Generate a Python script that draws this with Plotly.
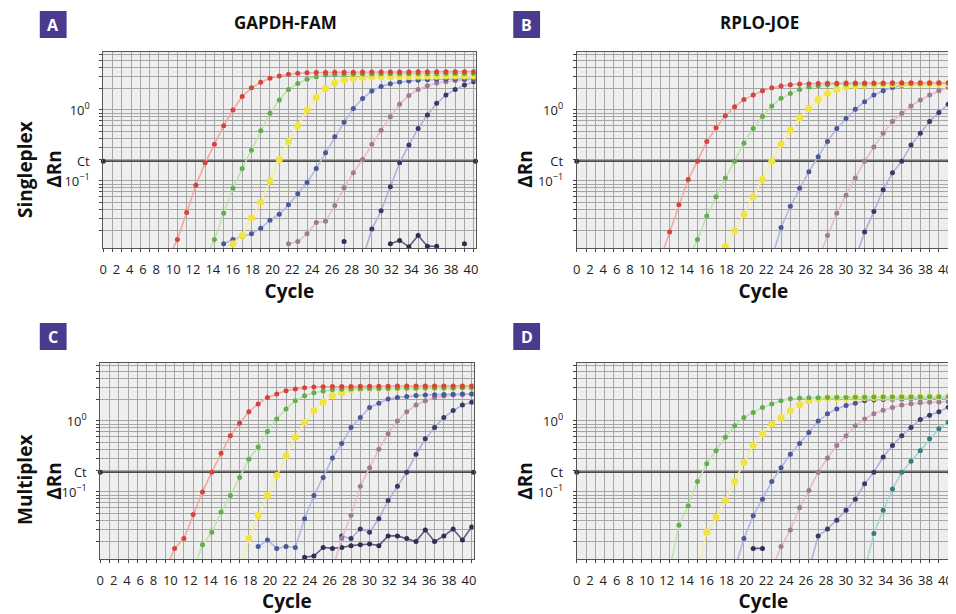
import plotly.graph_objects as go

FONT = "Open Sans, Noto Sans, DejaVu Sans, sans-serif"
CT = 0.19                      # threshold (Ct) level of ΔRn
X_RANGE = [0, 40.2]
Y_RANGE = [-1.945, 0.817]      # log10 of ΔRn

tick_text = [str(v) for v in range(0, 41, 2)]

# ---------------- Panel A : GAPDH-FAM singleplex ----------------
a_red_start = 7
a_red = [0.008, 0.015, 0.036, 0.087, 0.18, 0.33, 0.60, 1.0, 1.55, 2.05, 2.45, 2.8, 3.0, 3.2, 3.3, 3.35, 3.37,
         3.38, 3.4, 3.4, 3.4, 3.42, 3.42, 3.43, 3.43, 3.44, 3.44, 3.45, 3.45, 3.45, 3.46, 3.46, 3.46, 3.47]
a_green_start = 11
a_green = [0.008, 0.015, 0.035, 0.079, 0.15, 0.27, 0.51, 0.9, 1.38, 1.95, 2.37, 2.7, 2.95, 3.1, 3.15, 3.2, 3.2,
           3.22, 3.22, 3.23, 3.23, 3.24, 3.24, 3.25, 3.25, 3.25, 3.26, 3.26, 3.26, 3.27]
a_yellow_start = 14
a_yellow = [0.013, 0.017, 0.03, 0.05, 0.1, 0.2, 0.36, 0.6, 1.0, 1.5, 2.0, 2.4, 2.65, 2.8, 2.88, 2.92, 2.94,
            2.95, 2.96, 2.97, 2.98, 2.98, 2.99, 3.0, 3.0, 3.0, 3.01]
a_blue_start = 13
a_blue = [0.013, 0.015, 0.0165, 0.018, 0.0215, 0.028, 0.034, 0.046, 0.066, 0.095, 0.15, 0.25, 0.42, 0.67,
          1.05, 1.45, 1.85, 2.15, 2.35, 2.48, 2.56, 2.62, 2.66, 2.69, 2.71, 2.73, 2.74, 2.75]
a_pink_start = 20
a_pink = [0.013, 0.014, 0.018, 0.026, 0.027, 0.045, 0.08, 0.13, 0.2, 0.33, 0.52, 0.8, 1.2, 1.6, 1.95, 2.2,
          2.4, 2.5, 2.6, 2.65, 2.7]
a_navy_start = 28
a_navy = [0.008, 0.021, 0.038, 0.083, 0.18, 0.32, 0.55, 0.85, 1.24, 1.62, 1.95, 2.24, 2.5]
a_ntc_start = 26
a_ntc = [0.014, None, None, None, None, 0.013, 0.0145, 0.0118, 0.017, 0.012, 0.012, None, None, 0.013, None]

# ---------------- Panel B : RPLO-JOE singleplex ----------------
b_red_start = 9
b_red = [0.008, 0.019, 0.046, 0.105, 0.19, 0.36, 0.56, 0.83, 1.11, 1.41, 1.62, 1.87, 2.05, 2.18, 2.27, 2.32,
         2.35, 2.37, 2.38, 2.38, 2.39, 2.39, 2.4, 2.4, 2.4, 2.41, 2.41, 2.41, 2.42, 2.42, 2.42, 2.42]
b_green_start = 12
b_green = [0.008, 0.015, 0.032, 0.06, 0.11, 0.19, 0.34, 0.55, 0.81, 1.14, 1.46, 1.7, 1.95, 2.1, 2.2, 2.26,
           2.3, 2.31, 2.32, 2.33, 2.34, 2.35, 2.35, 2.36, 2.36, 2.37, 2.37, 2.38, 2.38]
b_yellow_start = 16
b_yellow = [0.012, 0.02, 0.034, 0.06, 0.105, 0.19, 0.33, 0.52, 0.78, 1.05, 1.4, 1.7, 1.95, 2.1, 2.2, 2.25,
            2.28, 2.3, 2.31, 2.32, 2.33, 2.34, 2.34, 2.35, 2.35]
b_blue_start = 21
b_blue = [0.008, 0.022, 0.044, 0.079, 0.135, 0.22, 0.36, 0.55, 0.76, 1.02, 1.31, 1.62, 1.87, 2.08, 2.22,
          2.28, 2.31, 2.33, 2.34, 2.35]
b_pink_start = 26
b_pink = [0.008, 0.017, 0.035, 0.063, 0.11, 0.19, 0.3, 0.47, 0.69, 0.9, 1.14, 1.38, 1.62, 1.87, 2.08]
b_navy_start = 30
b_navy = [0.008, 0.019, 0.037, 0.075, 0.13, 0.19, 0.32, 0.47, 0.69, 0.92, 1.2]

# ---------------- Panel C : GAPDH-FAM multiplex ----------------
c_red_start = 7
c_red = [0.008, 0.016, 0.022, 0.048, 0.1, 0.19, 0.35, 0.62, 0.93, 1.35, 1.74, 2.15, 2.4, 2.67, 2.82, 2.95,
         3.0, 3.03, 3.05, 3.06, 3.07, 3.08, 3.08, 3.09, 3.09, 3.1, 3.1, 3.1, 3.11, 3.11, 3.11, 3.12, 3.12, 3.12]
c_green_start = 10
c_green = [0.008, 0.018, 0.027, 0.052, 0.089, 0.16, 0.29, 0.43, 0.71, 1.07, 1.48, 1.93, 2.27, 2.5, 2.65,
           2.75, 2.8, 2.83, 2.85, 2.86, 2.87, 2.88, 2.89, 2.9, 2.9, 2.91, 2.91, 2.92, 2.92, 2.93, 2.93]
c_yellow_start = 15
c_yellow = [0.008, 0.022, 0.047, 0.089, 0.17, 0.32, 0.59, 0.95, 1.4, 1.83, 2.27, 2.5, 2.75, 2.85, 2.9, 2.92,
            2.94, 2.95, 2.96, 2.97, 2.98, 2.98, 2.99, 2.99, 3.0, 3.0]
c_blue_start = 17
c_blue = [0.017, 0.021, 0.016, 0.017, 0.0165, 0.042, 0.089, 0.16, 0.3, 0.48, 0.81, 1.12, 1.55, 1.78, 2.04,
          2.15, 2.22, 2.28, 2.32, 2.35, 2.37, 2.38, 2.39, 2.4]
c_pink_start = 25
c_pink = [0.008, 0.022, 0.047, 0.12, 0.22, 0.4, 0.66, 1.0, 1.35, 1.68, 1.93, 2.15, 2.25, 2.32, 2.37, 2.4]
c_navy_start = 26
c_navy = [0.024, 0.022, 0.03, 0.027, 0.042, 0.076, 0.12, 0.19, 0.34, 0.56, 0.81, 1.12, 1.4, 1.68, 1.83]
c_ntc_start = 22
c_ntc = [0.012, 0.0125, 0.0165, 0.016, 0.0165, 0.0175, 0.018, 0.0185, 0.0175, 0.024, 0.024, 0.022, 0.02,
         0.029, 0.02, 0.024, 0.03, 0.021, 0.032]

# ---------------- Panel D : RPLO-JOE multiplex ----------------
d_green_start = 10
d_green = [0.008, 0.034, 0.064, 0.14, 0.25, 0.38, 0.59, 0.86, 1.12, 1.32, 1.55, 1.74, 1.93, 2.05, 2.1, 2.12,
           2.13, 2.14, 2.15, 2.15, 2.16, 2.16, 2.17, 2.17, 2.17, 2.18, 2.18, 2.18, 2.19, 2.19, 2.2]
d_yellow_start = 13
d_yellow = [0.008, 0.027, 0.044, 0.076, 0.14, 0.26, 0.45, 0.66, 0.91, 1.12, 1.4, 1.69, 1.93, 2.05, 2.1,
            2.12, 2.13, 2.14, 2.15, 2.15, 2.16, 2.16, 2.17, 2.17, 2.18, 2.18, 2.18, 2.19]
d_blue_start = 17
d_blue = [0.008, 0.022, 0.046, 0.079, 0.14, 0.22, 0.34, 0.48, 0.69, 1.0, 1.26, 1.48, 1.65, 1.78, 1.93, 1.98,
          2.01, 2.03, 2.04, 2.05, 2.06, 2.07, 2.07, 2.08]
d_noise_start = 19
d_noise = [0.016, 0.016]
d_pink_start = 21
d_pink = [0.008, 0.017, 0.029, 0.06, 0.105, 0.19, 0.3, 0.45, 0.62, 0.86, 1.07, 1.26, 1.42, 1.55, 1.68, 1.75,
          1.8, 1.83, 1.85, 1.87]
d_navy_start = 25
d_navy = [0.008, 0.024, 0.03, 0.04, 0.055, 0.079, 0.13, 0.19, 0.31, 0.45, 0.62, 0.81, 1.05, 1.2, 1.35, 1.56]
d_teal_start = 31
d_teal = [0.008, 0.026, 0.055, 0.11, 0.19, 0.27, 0.38, 0.56, 0.78, 0.96]

# colour: (marker, line, marker size)
STYLE = {
    "red": ("#d8423a", "#f3a8a1", 5),
    "green": ("#62ad4d", "#bfe3ad", 5),
    "yellow": ("#f2e43e", "#f6efa2", 7),
    "blue": ("#4c5796", "#b0b8e8", 5),
    "pink": ("#9c7c92", "#e9b9d1", 5),
    "navy": ("#363a67", "#aeb0dc", 5),
    "teal": ("#3c7b7d", "#a4d6d8", 5),
    "ntc": ("#2c2f4f", "#5a5e84", 5),
}

panels = [
    ("x", "y", [("ntc", a_ntc_start, a_ntc), ("navy", a_navy_start, a_navy), ("pink", a_pink_start, a_pink),
                ("blue", a_blue_start, a_blue), ("yellow", a_yellow_start, a_yellow),
                ("green", a_green_start, a_green), ("red", a_red_start, a_red)]),
    ("x2", "y2", [("navy", b_navy_start, b_navy), ("pink", b_pink_start, b_pink), ("blue", b_blue_start, b_blue),
                  ("yellow", b_yellow_start, b_yellow), ("green", b_green_start, b_green),
                  ("red", b_red_start, b_red)]),
    ("x3", "y3", [("ntc", c_ntc_start, c_ntc), ("navy", c_navy_start, c_navy), ("pink", c_pink_start, c_pink),
                  ("blue", c_blue_start, c_blue), ("yellow", c_yellow_start, c_yellow),
                  ("green", c_green_start, c_green), ("red", c_red_start, c_red)]),
    ("x4", "y4", [("ntc", d_noise_start, d_noise), ("teal", d_teal_start, d_teal), ("navy", d_navy_start, d_navy),
                  ("pink", d_pink_start, d_pink), ("blue", d_blue_start, d_blue),
                  ("yellow", d_yellow_start, d_yellow), ("green", d_green_start, d_green)]),
]

fig = go.Figure()

for xa, ya, series in panels:
    # threshold line with end dots
    fig.add_trace(go.Scatter(x=X_RANGE, y=[CT, CT], xaxis=xa, yaxis=ya, mode="lines+markers",
                             line=dict(color="#4a4a4a", width=1.6), marker=dict(size=5, color="#333"),
                             cliponaxis=False, showlegend=False, hoverinfo="skip"))
    for name, start, vals in series:
        mcol, lcol, msize = STYLE[name]
        fig.add_trace(go.Scatter(
            x=list(range(start, start + len(vals))), y=vals, xaxis=xa, yaxis=ya,
            mode="lines+markers", connectgaps=False,
            line=dict(color=lcol, width=1.6),
            marker=dict(color=mcol, size=msize, line=dict(width=0)),
            showlegend=False))


def label_positions(texts):
    pos, si, di = [], 0, 0
    for t in texts:
        if len(t) == 1:
            pos.append(si * 1.429)
            si += 1
        else:
            pos.append(7.54 + di * 2.144)
            di += 1
    return pos


tick_pos = label_positions(tick_text)
y_minor = [m * 10.0 ** e for e in (-2, -1, 0) for m in range(1, 10)] + [10.0]
GRID = "#a6a6a6"

# page body has an 8px margin: figure is laid out in window pixels minus that offset
OFF = 8
W, H = 956 - OFF, 614 - OFF


def px(v):
    return (v - OFF) / W


def py(v):
    return 1 - (v - OFF) / H


doms = {
    1: ((100, 475), (52, 248)),
    2: ((577, 953), (52, 248)),
    3: ((97, 473), (363, 559)),
    4: ((577, 953), (363, 559)),
}

axes = {}
for i, ((xl, xr), (yt, yb)) in doms.items():
    sfx = "" if i == 1 else str(i)
    axes["xaxis" + sfx] = dict(
        domain=[px(xl), px(xr)], anchor="y" + sfx, range=X_RANGE, showgrid=False, zeroline=False,
        tickmode="array", tickvals=tick_pos, ticktext=tick_text, ticks="",
        tickfont=dict(size=13, color="#222", family=FONT), ticklabelstandoff=9,
        showline=True, linecolor="#555", linewidth=1, mirror=True,
        minor=dict(tickmode="linear", tick0=0, dtick=1, showgrid=True, gridcolor=GRID, gridwidth=1,
                   ticks="outside", ticklen=3, tickcolor="#444"),
        title=dict(text="Cycle", font=dict(size=19, family=FONT, color="#111", weight="bold"), standoff=4),
    )
    axes["yaxis" + sfx] = dict(
        domain=[py(yb), py(yt)], anchor="x" + sfx, type="log", range=Y_RANGE, zeroline=False,
        tickmode="array", tickvals=[0.1, CT, 1], ticktext=["10<sup>−1</sup>", "Ct", "10<sup>0</sup>"],
        ticks="", tickfont=dict(size=13, color="#222", family=FONT), ticklabelstandoff=10,
        showgrid=True, gridcolor=GRID, gridwidth=1,
        showline=True, linecolor="#555", linewidth=1, mirror=True,
        minor=dict(tickmode="array", tickvals=y_minor, showgrid=True, gridcolor=GRID, gridwidth=1,
                   ticks="outside", ticklen=3, tickcolor="#444"),
    )

fig.update_layout(**axes)

anns = []
shapes = []
for letter, (bx, by) in {"A": (36, 11), "B": (513, 11), "C": (36, 323), "D": (513, 323)}.items():
    shapes.append(dict(type="rect", xref="paper", yref="paper", x0=px(bx), x1=px(bx + 27),
                       y0=py(by + 27), y1=py(by), fillcolor="#4b3b8e", line=dict(width=0)))
    anns.append(dict(text=letter, x=px(bx + 13.5), y=py(by + 14), xref="paper", yref="paper",
                     xanchor="center", yanchor="middle", showarrow=False,
                     font=dict(size=16, color="white", family=FONT, weight="bold")))

for txt, tx in [("GAPDH-FAM", 284), ("RPLO-JOE", 761)]:
    anns.append(dict(text=txt, x=px(tx), y=py(22.5), xref="paper", yref="paper", showarrow=False,
                     xanchor="center", yanchor="middle",
                     font=dict(size=17, color="#111", family=FONT, weight="bold")))

for txt, tx, ty in [("Singleplex", 21, 169), ("ΔRn", 50, 169), ("ΔRn", 524.5, 169),
                    ("Multiplex", 21, 480), ("ΔRn", 50, 481), ("ΔRn", 524.5, 481)]:
    anns.append(dict(text=txt, x=px(tx), y=py(ty), xref="paper", yref="paper", showarrow=False,
                     xanchor="center", yanchor="middle", textangle=-90,
                     font=dict(size=19, color="#111", family=FONT, weight="bold")))

fig.update_layout(
    width=W, height=H, margin=dict(l=0, r=0, t=0, b=0),
    paper_bgcolor="white", plot_bgcolor="#eeeeee",
    annotations=anns, shapes=shapes, showlegend=False,
)

fig.write_html("out.html")
